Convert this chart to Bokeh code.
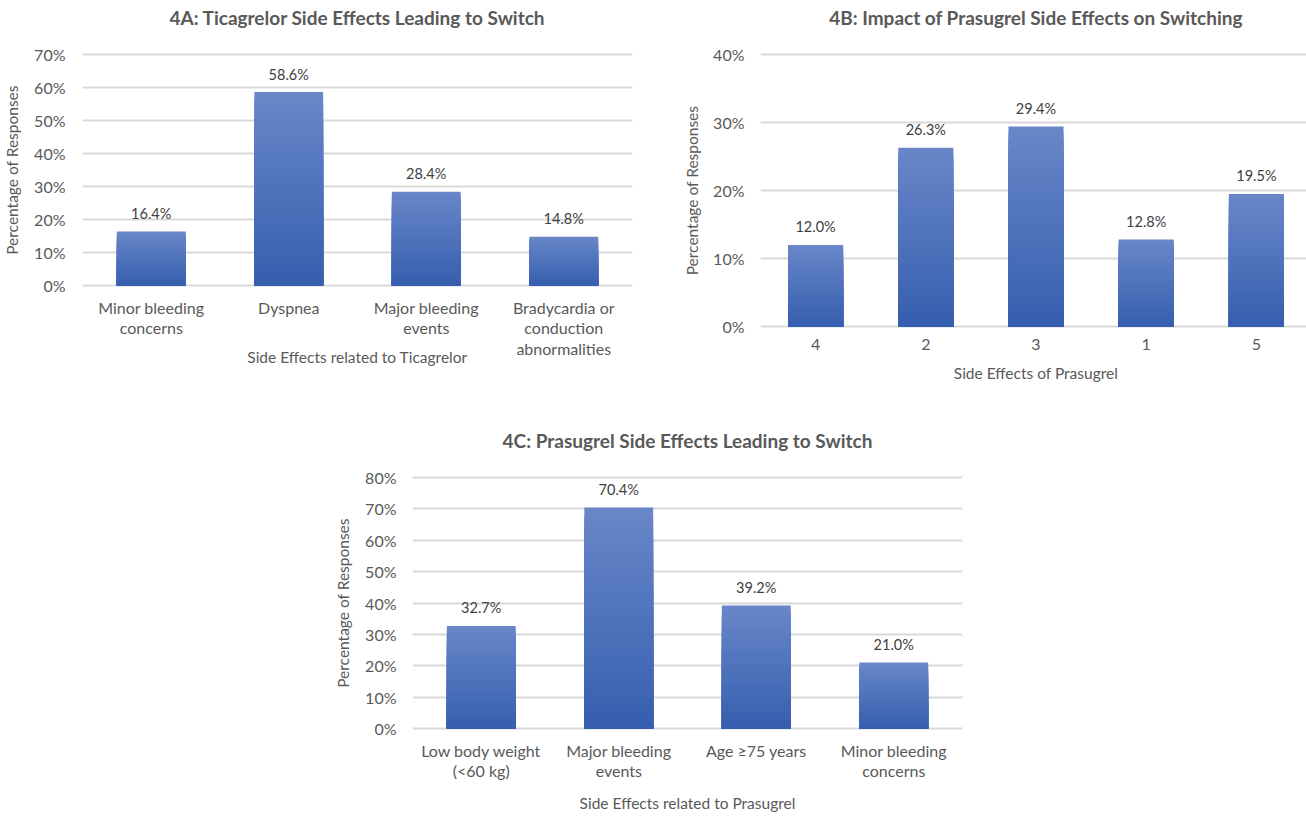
from bokeh.plotting import figure
from bokeh.models import (FixedTicker, PrintfTickFormatter, Range1d, Spacer,
                          ColumnDataSource, CategoricalAxis)
from bokeh.layouts import row, column
from bokeh.embed import file_html
from bokeh.resources import INLINE
from bokeh.core.properties import value

# ---------------- data ----------------
titleA = "4A: Ticagrelor Side Effects Leading to Switch"
catsA = ["Minor bleeding\nconcerns", "Dyspnea", "Major bleeding\nevents",
         "Bradycardia or\nconduction\nabnormalities"]
valsA = [16.4, 58.6, 28.4, 14.8]
ticksA = [0, 10, 20, 30, 40, 50, 60, 70]
xlabA = "Side Effects related to Ticagrelor"

titleB = "4B: Impact of Prasugrel Side Effects on Switching"
catsB = ["4", "2", "3", "1", "5"]
valsB = [12.0, 26.3, 29.4, 12.8, 19.5]
ticksB = [0, 10, 20, 30, 40]
xlabB = "Side Effects of Prasugrel"

titleC = "4C: Prasugrel Side Effects Leading to Switch"
catsC = ["Low body weight\n(<60 kg)", "Major bleeding\nevents", "Age \u226575 years",
         "Minor bleeding\nconcerns"]
valsC = [32.7, 70.4, 39.2, 21.0]
ticksC = [0, 10, 20, 30, 40, 50, 60, 70, 80]
xlabC = "Side Effects related to Prasugrel"

ylab = "Percentage of Responses"

FONT = "Lato"
GRAY = "#595959"
TOP = (104, 134, 200)
BOT = (55, 95, 175)
NSLICE = 30
FS_TICK = "16px"
FS_AX = "15.5px"


def hexc(c):
    return "#%02x%02x%02x" % tuple(int(round(v)) for v in c)


def make(title, cats, vals, ticks, xlab, frame_w, frame_h, pad, bl, br, bt, bb,
         tick_standoff, ylab_standoff, xlab_standoff, title_standoff):
    ymax = ticks[-1]
    p = figure(x_range=cats, y_range=Range1d(-pad, ymax + pad), title=None,
               frame_width=frame_w, frame_height=frame_h,
               min_border_left=bl, min_border_right=br, min_border_top=bt,
               min_border_bottom=bb, output_backend="svg", toolbar_location=None)
    p.outline_line_color = None
    p.background_fill_color = "white"
    p.border_fill_color = "white"

    # gradient bars: overlapping vbars from light (full height) to dark (shorter)
    for k in range(NSLICE):
        f = 1 - k / NSLICE
        t = k / (NSLICE - 1)
        col = hexc([TOP[i] + (BOT[i] - TOP[i]) * t for i in range(3)])
        src = ColumnDataSource(dict(x=cats, top=[v * f for v in vals]))
        p.vbar(x="x", top="top", bottom=0, width=0.5, source=src,
               fill_color=col, line_color=None)

    lsrc = ColumnDataSource(dict(x=cats, y=vals, t=["%.1f%%" % v for v in vals]))
    p.text(x="x", y="y", text="t", source=lsrc, text_align="center",
           text_baseline="middle", y_offset=-18, text_font=value(FONT),
           text_font_size="14.5px", text_color="#404040")

    p.xgrid.grid_line_color = None
    p.ygrid.grid_line_color = "#d9d9d9"
    p.ygrid.grid_line_width = 2
    p.yaxis.ticker = FixedTicker(ticks=ticks)
    p.yaxis.formatter = PrintfTickFormatter(format="%d%%")
    for ax in (p.xaxis[0], p.yaxis[0]):
        ax.axis_line_color = None
        ax.major_tick_line_color = None
        ax.minor_tick_line_color = None
        ax.major_tick_out = 0
        ax.major_tick_in = 0
        ax.major_label_text_font = FONT
        ax.major_label_text_font_size = FS_TICK
        ax.major_label_text_color = GRAY
        ax.axis_label_text_font = FONT
        ax.axis_label_text_font_size = FS_AX
        ax.axis_label_text_color = GRAY
        ax.axis_label_text_font_style = "normal"
    p.yaxis.major_label_standoff = tick_standoff
    p.yaxis.axis_label = ylab
    p.yaxis.axis_label_standoff = ylab_standoff
    p.xaxis.major_label_standoff = 10
    p.xaxis.major_label_text_line_height = 1.1
    p.xaxis.axis_label = xlab
    p.xaxis.axis_label_standoff = xlab_standoff

    # chart title as the label of an empty axis above the frame
    tax = CategoricalAxis(ticker=FixedTicker(ticks=[]), axis_label=title,
                          axis_label_standoff=title_standoff,
                          major_tick_out=0, major_tick_in=0,
                          axis_line_color=None, major_tick_line_color=None,
                          minor_tick_line_color=None,
                          axis_label_text_font=FONT, axis_label_text_font_size="19px",
                          axis_label_text_font_style="bold",
                          axis_label_text_color=GRAY)
    p.add_layout(tax, "above")
    return p


pA = make(titleA, catsA, valsA, ticksA, xlabA, 550, 235, 0.606, 76, 24, 52, 113,
          17, 10, -13, 24)
pB = make(titleB, catsB, valsB, ticksB, xlabB, 551, 276, 0.294, 104, 1, 51, 73,
          16, 9, 11, 24)
pC = make(titleC, catsC, valsC, ticksC, xlabC, 550, 255, 0.637, 82, 20, 75, 86,
          16, 10, 11, 24)

layout = column(row(pA, pB), row(Spacer(width=330, height=416), pC))

open("out.html", "w").write(file_html(layout, INLINE))
